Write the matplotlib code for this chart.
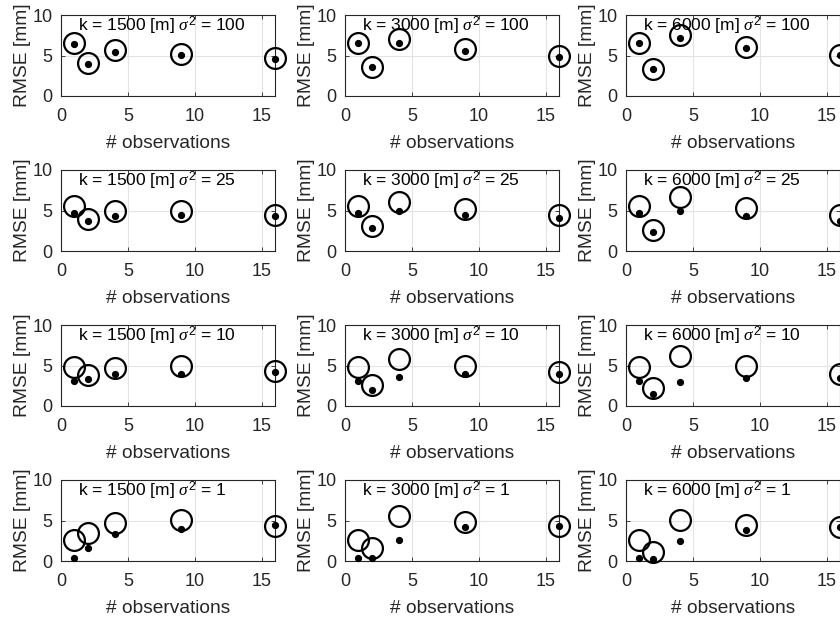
import matplotlib
matplotlib.use("Agg")
import matplotlib.pyplot as plt

plt.rcParams['font.family'] = ['Liberation Sans', 'DejaVu Sans']
plt.rcParams['mathtext.fontset'] = 'custom'
plt.rcParams['mathtext.rm'] = 'Liberation Sans'
plt.rcParams['mathtext.it'] = 'Liberation Serif:italic'

n_obs = [1, 2, 4, 9, 16]
k_values = [1500, 3000, 6000]
sigma2_values = [100, 25, 10, 1]

# Large open circles (rows: sigma^2, cols: k)
circle_vals = {
    (100, 1500): [6.5, 4.1, 5.7, 5.2, 4.7],
    (100, 3000): [6.6, 3.6, 7.0, 5.75, 4.9],
    (100, 6000): [6.6, 3.3, 7.5, 6.0, 5.1],
    (25, 1500): [5.6, 3.9, 4.9, 5.0, 4.4],
    (25, 3000): [5.6, 3.05, 6.1, 5.2, 4.5],
    (25, 6000): [5.6, 2.65, 6.65, 5.3, 4.4],
    (10, 1500): [4.85, 3.8, 4.65, 4.9, 4.35],
    (10, 3000): [4.8, 2.6, 5.75, 4.9, 4.15],
    (10, 6000): [4.8, 2.2, 6.2, 5.0, 4.0],
    (1, 1500): [2.6, 3.5, 4.7, 5.05, 4.35],
    (1, 3000): [2.6, 1.55, 5.5, 4.85, 4.35],
    (1, 6000): [2.6, 1.07, 5.05, 4.5, 4.15],
}
# Small filled dots
dot_vals = {
    (100, 1500): [6.4, 4.0, 5.45, 5.05, 4.6],
    (100, 3000): [6.5, 3.6, 6.6, 5.55, 4.85],
    (100, 6000): [6.5, 3.3, 7.2, 5.9, 5.05],
    (25, 1500): [4.7, 3.7, 4.3, 4.5, 4.3],
    (25, 3000): [4.7, 2.8, 5.0, 4.5, 4.1],
    (25, 6000): [4.7, 2.3, 5.0, 4.3, 3.7],
    (10, 1500): [3.1, 3.3, 4.0, 4.0, 4.25],
    (10, 3000): [3.1, 2.0, 3.55, 4.0, 3.9],
    (10, 6000): [3.1, 1.5, 3.0, 3.5, 3.5],
    (1, 1500): [0.33, 1.55, 3.3, 3.95, 4.45],
    (1, 3000): [0.33, 0.4, 2.6, 4.15, 4.35],
    (1, 6000): [0.33, 0.2, 2.5, 3.8, 4.15],
}

W, H = 840, 621
fig = plt.figure(figsize=(W / 100, H / 100), dpi=100)

col_left = [61, 345, 626]
row_top = [15, 170, 325, 480]
ax_w = 214
ax_h = 81
dark = '#262626'

for r, s2 in enumerate(sigma2_values):
    for c, k in enumerate(k_values):
        ax = fig.add_axes([col_left[c] / W, 1 - (row_top[r] + ax_h) / H, ax_w / W, ax_h / H])
        ax.plot(n_obs, circle_vals[(s2, k)], 'o', ms=15, mfc='none', mec='black',
                mew=1.6, clip_on=False, zorder=3)
        ax.plot(n_obs, dot_vals[(s2, k)], 'o', ms=4.2, color='black',
                clip_on=False, zorder=4)
        ax.set_xlim(0, 16)
        ax.set_ylim(0, 10)
        ax.set_xticks([0, 5, 10, 15])
        ax.set_yticks([0, 5, 10])
        ax.grid(True, color='#e3e3e3', lw=0.8)
        ax.set_axisbelow(True)
        for sp in ax.spines.values():
            sp.set_color(dark)
            sp.set_linewidth(0.8)
        ax.tick_params(direction='in', length=3, width=0.6, colors=dark,
                       labelsize=13, top=True, right=True)
        ax.tick_params(axis='x', pad=8.5)
        ax.tick_params(axis='y', pad=6)
        ax.set_xlabel('# observations', fontsize=13.8, color=dark, labelpad=7)
        ax.set_ylabel('RMSE [mm]', fontsize=13.8, color=dark, labelpad=1)
        ax.text(1.3, 8.6, 'k = %d [m] $\\sigma^2$ = %d' % (k, s2), fontsize=12.5,
                ha='left', va='center', color='black', zorder=5)

fig.savefig('out.png', dpi=100)
